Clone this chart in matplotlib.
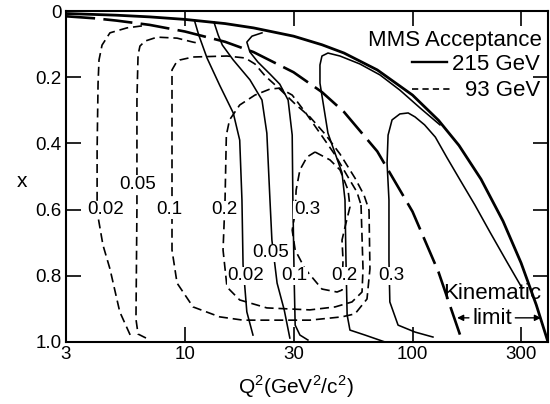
import matplotlib
matplotlib.use("Agg")
import matplotlib.pyplot as plt
import numpy as np

plt.rcParams['font.family'] = ['Liberation Sans', 'DejaVu Sans']
plt.rcParams['mathtext.fontset'] = 'custom'
plt.rcParams['mathtext.rm'] = 'Liberation Sans'
plt.rcParams['lines.scale_dashes'] = False

# ---- kinematic limits ----
lim215_q2 = [3, 5, 7, 10, 15, 20, 30, 40, 50, 70, 100, 130, 160, 200, 250, 300, 350, 394]
lim215_x = [0.0076, 0.0127, 0.0178, 0.0254, 0.038, 0.051, 0.076, 0.102, 0.127, 0.178,
            0.254, 0.330, 0.406, 0.508, 0.635, 0.761, 0.888, 1.0]
lim93_q2 = [3, 4, 5, 7, 10, 15, 20, 30, 40, 50, 70, 100, 130, 163]
lim93_x = [0.016, 0.022, 0.029, 0.042, 0.062, 0.093, 0.124, 0.185, 0.245, 0.305,
           0.424, 0.606, 0.788, 0.985]

# ---- 215 GeV acceptance contours (solid) ----
s002_q2 = [11.0, 11.5, 12.5, 14.2, 16.3, 17.4, 17.8, 18.0, 18.7, 19.9]
s002_x = [0.028, 0.073, 0.142, 0.224, 0.308, 0.390, 0.571, 0.767, 0.909, 0.979]
s005_q2 = [13.4, 14.0, 14.6, 16.3, 19.3, 21.8, 22.9, 23.6, 24.1, 25.4, 27.3, 28.9]
s005_x = [0.033, 0.073, 0.103, 0.148, 0.208, 0.269, 0.369, 0.562, 0.692, 0.822, 0.903, 0.988]
s01_q2 = [21.8, 19.7, 18.7, 19.3, 20.9, 23.6, 26.1, 28.4, 29.6, 29.8, 30.2, 30.5, 32.0, 34.7]
s01_x = [0.066, 0.076, 0.094, 0.124, 0.154, 0.190, 0.221, 0.269, 0.375, 0.571, 0.813,
         0.949, 0.979, 0.994]
s02_q2 = [132, 108, 88.0, 71.9, 58.7, 48.0, 42.5, 40.0, 39.2, 39.2, 42.5, 49.0, 50.5,
          51.0, 51.6, 53.1, 61.8, 75.7]
s02_x = [0.344, 0.293, 0.239, 0.193, 0.160, 0.136, 0.127, 0.136, 0.163, 0.218, 0.369,
         0.489, 0.571, 0.752, 0.918, 0.964, 0.979, 1.0]
s03_q2 = [123, 102.6, 86.4, 79.5, 78.8, 78.8, 77.3, 78.1, 81.3, 88.0, 95.7, 102.6, 113,
          126, 142, 162, 188, 219, 260, 303]
s03_x = [0.985, 0.970, 0.949, 0.879, 0.752, 0.571, 0.459, 0.375, 0.329, 0.311, 0.308,
         0.320, 0.344, 0.381, 0.444, 0.511, 0.586, 0.668, 0.758, 0.837]

# ---- 93 GeV acceptance contours (dashed) ----
d002_q2 = [6.47, 5.56, 4.68, 4.32, 4.19, 4.15, 4.11, 4.11, 4.15, 4.36, 4.68, 5.17, 5.85]
d002_x = [0.045, 0.051, 0.066, 0.103, 0.148, 0.218, 0.420, 0.571, 0.622, 0.707, 0.779,
          0.909, 0.991]
d005_q2 = [6.74, 6.22, 6.09, 6.15, 6.15, 6.22, 6.34, 6.67, 7.54, 9.23, 10.85, 11.6]
d005_x = [0.988, 0.976, 0.931, 0.598, 0.269, 0.133, 0.106, 0.091, 0.079, 0.082, 0.094,
          0.098]
d01_q2 = [64.4, 65.0, 63.1, 55.9, 49.0, 35.4, 18.0, 14.2, 10.85, 9.23, 8.77, 8.77, 8.77,
          9.13, 9.49, 10.85, 15.3, 18.4, 20.3, 22.5, 26.1, 30.5, 35.4, 41.3, 48.0, 55.9,
          61.2, 64.4]
d01_x = [0.601, 0.779, 0.870, 0.915, 0.924, 0.934, 0.934, 0.924, 0.894, 0.822, 0.722,
         0.420, 0.178, 0.157, 0.148, 0.139, 0.136, 0.142, 0.160, 0.196, 0.236, 0.281,
         0.320, 0.372, 0.432, 0.505, 0.556, 0.601]
d02_q2 = [59.4, 60.6, 60.0, 54.2, 45.7, 35.4, 22.9, 17.4, 15.3, 14.7, 15.0, 15.2, 15.7,
          17.4, 20.3, 23.6, 26.1, 29.6, 33.7, 39.2, 45.7, 52.1, 57.0, 59.4]
d02_x = [0.586, 0.779, 0.849, 0.879, 0.894, 0.903, 0.897, 0.873, 0.834, 0.722, 0.571,
         0.375, 0.329, 0.284, 0.254, 0.236, 0.233, 0.254, 0.305, 0.369, 0.435, 0.502,
         0.547, 0.586]
d03_q2 = [37.3, 43.4, 48.0, 52.1, 53.1, 50.5, 49.0, 49.5, 49.0, 46.6, 40.0, 33.7, 30.5,
          29.6, 30.5, 30.8, 32.0, 34.4, 37.3]
d03_x = [0.426, 0.450, 0.480, 0.541, 0.592, 0.653, 0.692, 0.752, 0.843, 0.849, 0.840,
         0.779, 0.722, 0.662, 0.610, 0.541, 0.480, 0.441, 0.426]

# ---- contour labels ----
solid_labels = ["0.02", "0.05", "0.1", "0.2", "0.3"]
solid_lab_q2 = [18.5, 23.9, 30.2, 50.0, 80.5]
solid_lab_x = [0.80, 0.731, 0.80, 0.80, 0.80]
dash_labels = ["0.02", "0.05", "0.1", "0.2", "0.3"]
dash_lab_q2 = [4.50, 6.22, 8.51, 14.85, 34.4]
dash_lab_x = [0.601, 0.523, 0.601, 0.601, 0.601]

xticks = [3, 10, 30, 100, 300]
xticklabels = ["3", "10", "30", "100", "300"]
yticks = [0, 0.2, 0.4, 0.6, 0.8, 1.0]
yticklabels = ["0", "0.2", "0.4", "0.6", "0.8", "1.0"]

fig = plt.figure(figsize=(5.5, 4.04), dpi=100)
ax = fig.add_axes([66/550, 1-342/404, 482/550, 331/404])
ax.set_xscale('log')
ax.set_xlim(3, 394)
ax.set_ylim(1.0, 0.0)

ax.plot(lim215_q2, lim215_x, lw=2.0, color='black', solid_capstyle='round')
ax.plot(lim93_q2, lim93_x, lw=1.9, color='black', dashes=(21, 6))

for q, xv in [(s002_q2, s002_x), (s005_q2, s005_x), (s01_q2, s01_x),
              (s02_q2, s02_x), (s03_q2, s03_x)]:
    ax.plot(q, xv, lw=1.15, color='black')

for q, xv in [(d002_q2, d002_x), (d005_q2, d005_x), (d01_q2, d01_x),
              (d02_q2, d02_x), (d03_q2, d03_x)]:
    ax.plot(q, xv, lw=1.2, color='black', dashes=(6.5, 3.5))

bb = dict(facecolor='white', edgecolor='none', pad=0.5)
for t, q, xv in zip(solid_labels, solid_lab_q2, solid_lab_x):
    ax.text(q, xv, t, ha='center', va='center', fontsize=13.5, bbox=bb)
for t, q, xv in zip(dash_labels, dash_lab_q2, dash_lab_x):
    ax.text(q, xv, t, ha='center', va='center', fontsize=13.5, bbox=bb)

# legend
ax.text(0.988, 0.912, "MMS Acceptance", transform=ax.transAxes, ha='right',
        va='center', fontsize=16)
ax.plot([0.718, 0.790], [0.846, 0.846], transform=ax.transAxes, color='black', lw=1.7)
ax.text(0.984, 0.838, "215 GeV", transform=ax.transAxes, ha='right', va='center',
        fontsize=16)
ax.plot([0.718, 0.796], [0.764, 0.764], transform=ax.transAxes, color='black', lw=1.2,
        dashes=(4.5, 3))
ax.text(0.984, 0.760, "93 GeV", transform=ax.transAxes, ha='right', va='center',
        fontsize=16)

# kinematic limit annotation
ax.text(0.884, 0.148, "Kinematic", transform=ax.transAxes, ha='center', va='center',
        fontsize=16)
ax.text(0.884, 0.072, "limit", transform=ax.transAxes, ha='center', va='center',
        fontsize=16)
ap = dict(arrowstyle='-|>', color='black', lw=1.0, mutation_scale=9, shrinkA=0, shrinkB=0)
ax.annotate('', xy=(157, 0.927), xytext=(177, 0.927), arrowprops=ap)
ax.annotate('', xy=(367, 0.927), xytext=(283, 0.927), arrowprops=ap)

ax.set_xticks(xticks)
ax.set_xticklabels(xticklabels)
ax.xaxis.set_minor_locator(matplotlib.ticker.NullLocator())
ax.set_yticks(yticks)
ax.set_yticklabels(yticklabels)
ax.tick_params(direction='in', length=11, width=1.2, top=True, right=True,
               labelsize=13.5, pad=3)
for s in ax.spines.values():
    s.set_linewidth(1.5)

ax.set_xlabel(r"Q$^2$(GeV$^2$/c$^2$)", fontsize=15)
ax.xaxis.set_label_coords(0.477, -0.095)
ax.set_ylabel("x", fontsize=15, rotation=0, va='center', ha='center')
ax.yaxis.set_label_coords(-0.091, 0.485)

fig.savefig("out.png", dpi=100)
